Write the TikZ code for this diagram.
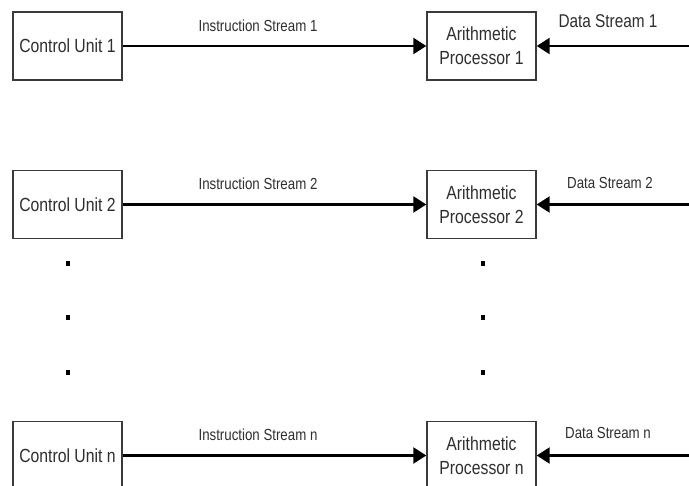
\documentclass[tikz,border=0pt]{standalone}
\usepackage{fontspec}
\setmainfont{Liberation Sans}[FakeStretch=0.83]
\usetikzlibrary{arrows.meta}
\definecolor{boxgray}{HTML}{3A3A3A}
\definecolor{textgray}{HTML}{2E2E2E}
\begin{document}
\begin{tikzpicture}[x=1pt,y=-1pt,
  unitbox/.style={draw=boxgray, line width=1.4pt, minimum width=109pt,
    minimum height=68pt, inner sep=0pt, align=center, text=textgray,
    font=\fontsize{19}{24}\selectfont},
  flow/.style={line width=2.4pt, -{Triangle[length=13pt,width=16pt]}},
  lbl/.style={anchor=base, text=textgray, inner sep=0pt,
    font=\fontsize{16}{18}\selectfont},
  biglbl/.style={lbl, font=\fontsize{18.5}{20}\selectfont},
  vdot/.style={fill=black, inner sep=0pt, minimum width=4pt, minimum height=5pt}
]
\useasboundingbox (0,0) rectangle (689,486);
\clip (0,0) rectangle (689,486);

% row 1
\node[unitbox] (cu1) at (67.5,46) {Control Unit 1};
\node[unitbox] (ap1) at (481.5,46) {Arithmetic\\Processor 1};
\coordinate (ds1) at (689,46);
\draw[flow] (cu1) -- (ap1);
\draw[flow] (ds1) -- (ap1);
\node[lbl] (is1l) at (258,32) {Instruction Stream 1};
\node[biglbl] (ds1l) at (608,28) {Data Stream 1};

% row 2
\node[unitbox] (cu2) at (67.5,204.5) {Control Unit 2};
\node[unitbox] (ap2) at (481.5,204.5) {Arithmetic\\Processor 2};
\coordinate (ds2) at (689,204.5);
\draw[flow] (cu2) -- (ap2);
\draw[flow] (ds2) -- (ap2);
\node[lbl] (is2l) at (258,190) {Instruction Stream 2};
\node[lbl] (ds2l) at (610,189) {Data Stream 2};

% vertical ellipsis between the rows
\foreach \y [count=\i] in {264,318,373} {
  \node[vdot] (lc\i) at (67.5,\y) {};
  \node[vdot] (rc\i) at (483,\y) {};
}

% row n
\node[unitbox] (cun) at (67.5,455.5) {Control Unit n};
\node[unitbox] (apn) at (481.5,455.5) {Arithmetic\\Processor n};
\coordinate (dsn) at (689,455.5);
\draw[flow] (cun) -- (apn);
\draw[flow] (dsn) -- (apn);
\node[lbl] (isnl) at (258,441) {Instruction Stream n};
\node[lbl] (dsnl) at (608,439) {Data Stream n};
\end{tikzpicture}
\end{document}
